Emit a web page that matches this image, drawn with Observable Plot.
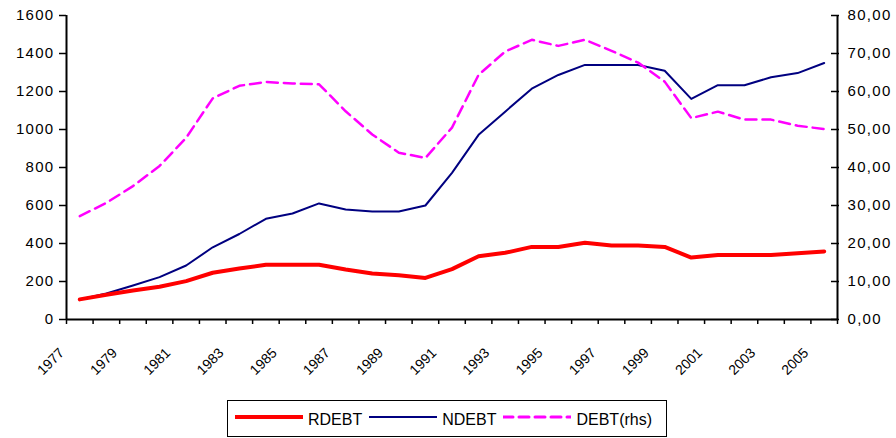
<!DOCTYPE html>
<html><head><meta charset="utf-8">
<script src="https://cdn.jsdelivr.net/npm/d3@7"></script>
<script src="https://cdn.jsdelivr.net/npm/@observablehq/plot@0.6"></script>
<style>
  body { margin: 0; background: #fff; font-family: "Liberation Sans", Arial, sans-serif; }
  #chart svg { display: block; }
  #legend { position: relative; margin-left: 227px; margin-top: 2px; width: 440px; height: 37px;
    border: 1.5px solid #000; box-sizing: border-box; display: flex; align-items: center;
    padding-left: 7px; font-size: 16px; color: #000; }
  #legend .item { display: flex; align-items: center; margin-right: 7px; }
  #legend svg { display: block; margin-right: 5px; margin-top: -4px; }
  #legend span { margin-top: 2px; }
</style></head>
<body>
<div id="chart"></div>
<div id="legend"></div>
<script>
const years = [1977,1978,1979,1980,1981,1982,1983,1984,1985,1986,1987,1988,1989,1990,1991,1992,1993,1994,1995,1996,1997,1998,1999,2000,2001,2002,2003,2004,2005];
const rdebt = [106,130,153,172,202,246,268,288,288,288,263,242,233,219,265,333,351,382,382,404,389,389,382,326,339,339,339,349,358];
const ndebt = [105,137,179,223,284,380,450,530,558,611,579,568,568,600,772,972,1094,1215,1287,1340,1340,1340,1309,1161,1233,1233,1275,1297,1350];
const debt = [27.2,30.7,35.1,40.4,47.8,58.2,61.5,62.5,62.1,61.9,54.8,48.7,43.9,42.5,50.5,64.4,70.5,73.6,72.0,73.6,70.7,67.6,62.6,53.0,54.7,52.6,52.6,51.0,50.1];
const leftTicks = [0,200,400,600,800,1000,1200,1400,1600];
const rightTicks = [0,10,20,30,40,50,60,70,80];
const xLabels = [1977,1979,1981,1983,1985,1987,1989,1991,1993,1995,1997,1999,2001,2003,2005];
const seriesNames = ["RDEBT","NDEBT","DEBT(rhs)"];
const seriesColors = ["#ff0000","#000080","#ff00ff"];

const k = 1600 / 80; // right axis maps onto left scale
const rows = years.map((y, i) => ({year: y, rdebt: rdebt[i], ndebt: ndebt[i], debt: debt[i] * k}));
const xDomain = [years[0] - 0.5, years[years.length - 1] + 0.5];
const boundaries = [...years.map(y => y - 0.5), years[years.length - 1] + 0.5];

const W = 896, H = 398, mL = 66, mR = 59, mT = 15, mB = 79;
const innerW = W - mL - mR;

const chart = Plot.plot({
  width: W, height: H, marginLeft: mL, marginRight: mR, marginTop: mT, marginBottom: mB,
  x: {type: "linear", domain: xDomain},
  y: {domain: [0, 1600]},
  style: {fontFamily: '"Liberation Sans", Arial, sans-serif', fontSize: "15px", color: "#000", background: "#fff"},
  marks: [
    Plot.axisY(leftTicks, {anchor: "left", tickSize: 7, tickPadding: 5, strokeWidth: 1.5, fontSize: 15, label: null, tickFormat: d => String(d)}),
    Plot.axisY(rightTicks.map(v => v * k), {anchor: "right", tickSize: 0, tickPadding: 10, fontSize: 15, label: null, tickFormat: d => (d / k).toFixed(2).replace(".", ",")}),
    Plot.tickY(rightTicks.map(v => v * k), {y: d => d, insetLeft: innerW - 6, insetRight: -2, stroke: "#000", strokeWidth: 1.5}),
    Plot.axisX(boundaries, {anchor: "bottom", tickSize: 5, strokeWidth: 1.5, label: null, tickFormat: () => ""}),
    Plot.axisX(xLabels, {anchor: "bottom", tickSize: 0, tickPadding: 0, tickRotate: -45, dx: -18, dy: 31, fontSize: 14, label: null, tickFormat: d => String(d)}),
    Plot.line(rows, {x: "year", y: "ndebt", stroke: seriesColors[1], strokeWidth: 2}),
    Plot.line(rows, {x: "year", y: "debt", stroke: seriesColors[2], strokeWidth: 2.5, strokeDasharray: "11,6"}),
    Plot.line(rows, {x: "year", y: "rdebt", stroke: seriesColors[0], strokeWidth: 4}),
    Plot.ruleY([0], {stroke: "#000", strokeWidth: 2}),
    Plot.ruleX(xDomain, {stroke: "#000", strokeWidth: 2})
  ]
});
document.getElementById("chart").appendChild(chart);

// widen y tick labels slightly, like the reference's stretched text
chart.querySelectorAll("text").forEach(t => {
  const s = t.textContent;
  if (/^\d+(,\d\d)?$/.test(s) && !xLabels.includes(+s) || /,/.test(s)) {
    t.setAttribute("letter-spacing", "1.3");
    t.style.letterSpacing = "1.3px";
  }
});

const legend = document.getElementById("legend");
const swatch = [
  {w: 4, dash: null},
  {w: 2, dash: null},
  {w: 3, dash: "10,6"}
];
seriesNames.forEach((name, i) => {
  const item = document.createElement("div");
  item.className = "item";
  item.innerHTML = `<svg width="68" height="6"><line x1="0" x2="68" y1="3" y2="3" stroke="${seriesColors[i]}" stroke-width="${swatch[i].w}" ${swatch[i].dash ? `stroke-dasharray="${swatch[i].dash}"` : ""} stroke-linecap="round"/></svg><span>${name}</span>`;
  legend.appendChild(item);
});
</script>
</body></html>
